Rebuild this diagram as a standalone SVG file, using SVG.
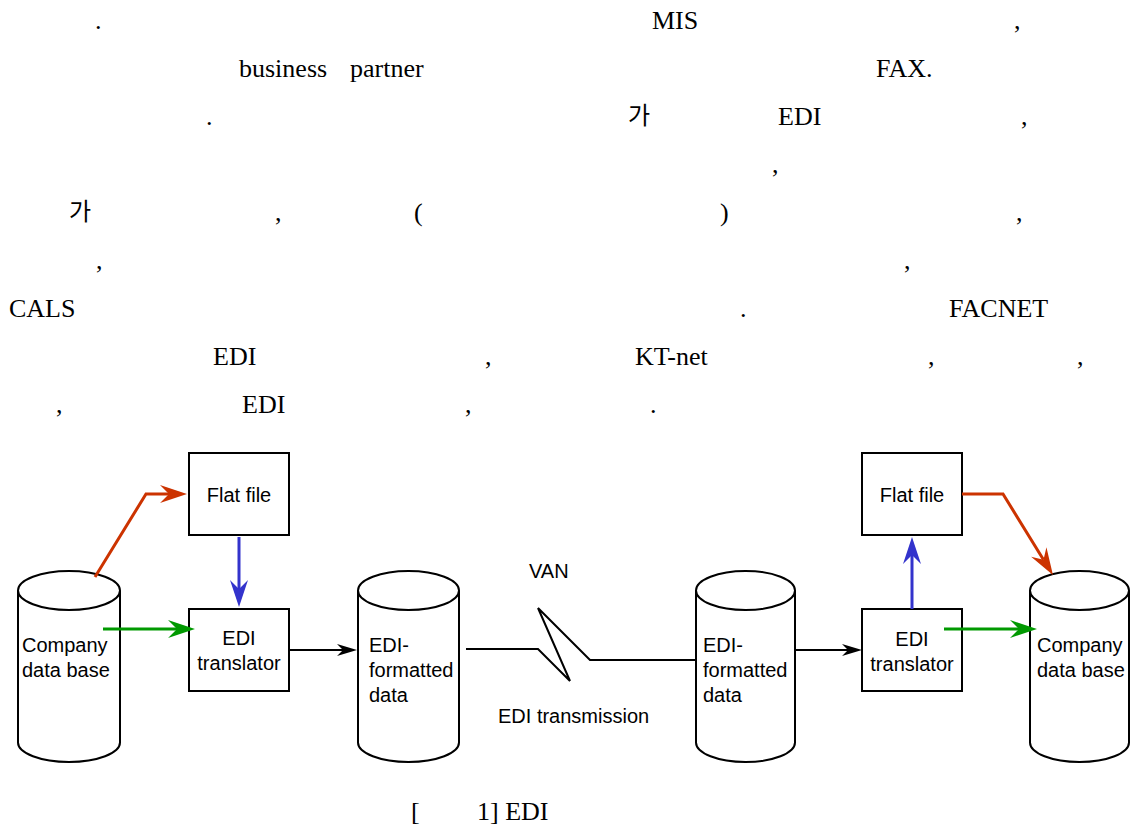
<svg xmlns="http://www.w3.org/2000/svg" width="1136" height="828" viewBox="0 0 1136 828">
<style>
.p{font-family:"Liberation Serif","Noto Sans CJK KR",serif;font-size:26px;fill:#000}
.k{font-family:"Noto Sans CJK KR","Liberation Serif",sans-serif;font-size:24px;fill:#000}
.l{font-family:"Liberation Sans",Arial,sans-serif;font-size:20px;fill:#000}
.shape{fill:#fff;stroke:#000;stroke-width:2}
.conn{fill:none;stroke-width:3;stroke-linejoin:miter}
.blk{fill:none;stroke:#000;stroke-width:2}
</style>
<defs>
<marker id="aRed" viewBox="0 0 27 18" refX="9" refY="9" markerWidth="27" markerHeight="18" markerUnits="userSpaceOnUse" orient="auto" overflow="visible"><path d="M0,0 L27,9 L0,18 L9,9 Z" fill="#cc3300"/></marker>
<marker id="aBlue" viewBox="0 0 27 18" refX="9" refY="9" markerWidth="27" markerHeight="18" markerUnits="userSpaceOnUse" orient="auto" overflow="visible"><path d="M0,0 L27,9 L0,18 L9,9 Z" fill="#3333cc"/></marker>
<marker id="aGreen" viewBox="0 0 27 18" refX="9" refY="9" markerWidth="27" markerHeight="18" markerUnits="userSpaceOnUse" orient="auto" overflow="visible"><path d="M0,0 L27,9 L0,18 L9,9 Z" fill="#009900"/></marker>
<marker id="aBlk" viewBox="0 0 20 12" refX="6" refY="6" markerWidth="20" markerHeight="12" markerUnits="userSpaceOnUse" orient="auto" overflow="visible"><path d="M0,0 L20,6 L0,12 L6,6 Z" fill="#000"/></marker>
</defs>

<g id="paragraph">
<text class="p" x="95" y="29">.</text>
<text class="p" x="652" y="29">MIS</text>
<text class="p" x="1014" y="29">,</text>
<text class="p" x="239" y="77">business</text>
<text class="p" x="350" y="77">partner</text>
<text class="p" x="876" y="77">FAX.</text>
<text class="p" x="206" y="125">.</text>
<text class="k" x="628" y="124">가</text>
<text class="p" x="778" y="125">EDI</text>
<text class="p" x="1021" y="125">,</text>
<text class="p" x="772" y="173">,</text>
<text class="k" x="69" y="220">가</text>
<text class="p" x="275" y="221">,</text>
<text class="p" x="414" y="221">(</text>
<text class="p" x="720" y="221">)</text>
<text class="p" x="1016" y="221">,</text>
<text class="p" x="96" y="269">,</text>
<text class="p" x="904" y="269">,</text>
<text class="p" x="9" y="317">CALS</text>
<text class="p" x="740" y="317">.</text>
<text class="p" x="949" y="317">FACNET</text>
<text class="p" x="213" y="365">EDI</text>
<text class="p" x="485" y="365">,</text>
<text class="p" x="635" y="365">KT-net</text>
<text class="p" x="928" y="365">,</text>
<text class="p" x="1077" y="365">,</text>
<text class="p" x="56" y="413">,</text>
<text class="p" x="242" y="413">EDI</text>
<text class="p" x="465" y="413">,</text>
<text class="p" x="650" y="413">.</text>
</g>

<g id="db-left">
<path class="shape" d="M18,590.5 L18,742.5 A51,19.5 0 0 0 120,742.5 L120,590.5"/>
<ellipse class="shape" cx="69" cy="590.5" rx="51" ry="19.5"/>
<text class="l" x="22" y="652">Company</text>
<text class="l" x="22" y="677">data base</text>
</g>

<g id="flat-left">
<rect class="shape" x="189" y="453" width="100" height="82"/>
<text class="l" x="239" y="502" text-anchor="middle">Flat file</text>
</g>

<g id="trans-left">
<rect class="shape" x="189" y="609" width="100" height="82"/>
<text class="l" x="239" y="645" text-anchor="middle">EDI</text>
<text class="l" x="239" y="670" text-anchor="middle">translator</text>
</g>

<g id="edi-data-left">
<path class="shape" d="M358,590.5 L358,742.5 A50.5,19.5 0 0 0 459,742.5 L459,590.5"/>
<ellipse class="shape" cx="408.5" cy="590.5" rx="50.5" ry="19.5"/>
<text class="l" x="369" y="652">EDI-</text>
<text class="l" x="369" y="677">formatted</text>
<text class="l" x="369" y="702">data</text>
</g>

<g id="edi-data-right">
<path class="shape" d="M696,590.5 L696,742.5 A49.5,19.5 0 0 0 795,742.5 L795,590.5"/>
<ellipse class="shape" cx="745.5" cy="590.5" rx="49.5" ry="19.5"/>
<text class="l" x="703" y="652">EDI-</text>
<text class="l" x="703" y="677">formatted</text>
<text class="l" x="703" y="702">data</text>
</g>

<g id="trans-right">
<rect class="shape" x="862" y="609" width="100" height="82"/>
<text class="l" x="912" y="646" text-anchor="middle">EDI</text>
<text class="l" x="912" y="671" text-anchor="middle">translator</text>
</g>

<g id="flat-right">
<rect class="shape" x="862" y="453" width="100" height="82"/>
<text class="l" x="912" y="502" text-anchor="middle">Flat file</text>
</g>

<g id="db-right">
<path class="shape" d="M1030,590.5 L1030,742.5 A49.5,19.5 0 0 0 1129,742.5 L1129,590.5"/>
<ellipse class="shape" cx="1079.5" cy="590.5" rx="49.5" ry="19.5"/>
<text class="l" x="1037" y="652">Company</text>
<text class="l" x="1037" y="677">data base</text>
</g>

<g id="connectors">
<path class="conn" stroke="#cc3300" d="M95,577 L146,494 L169,494" marker-end="url(#aRed)"/>
<path class="conn" stroke="#3333cc" d="M239,537 L239,589" marker-end="url(#aBlue)"/>
<path class="conn" stroke="#009900" d="M103,629 L177,629" marker-end="url(#aGreen)"/>
<path class="blk" d="M289,650 L343,650" marker-end="url(#aBlk)"/>
<path class="blk" d="M466,649 L538,649 L570,681 L538,608 L590,660 L696,660"/>
<path class="blk" d="M795,650 L848,650" marker-end="url(#aBlk)"/>
<path class="conn" stroke="#3333cc" d="M912,609 L912,555" marker-end="url(#aBlue)"/>
<path class="conn" stroke="#009900" d="M944,629 L1019,629" marker-end="url(#aGreen)"/>
<path class="conn" stroke="#cc3300" d="M962,494 L1003,494 L1043.5,559.7" marker-end="url(#aRed)"/>
<text class="l" x="529" y="578">VAN</text>
<text class="l" x="498" y="723">EDI transmission</text>
</g>

<g id="caption">
<text class="p" x="411" y="820">[</text>
<text class="p" x="477" y="820">1] EDI</text>
</g>
</svg>
